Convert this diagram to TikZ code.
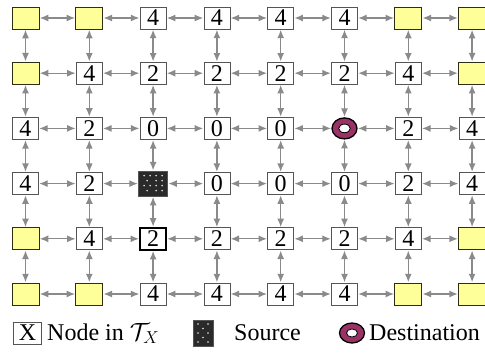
\documentclass[tikz,border=0pt]{standalone}
\usepackage{fontspec}
\setmainfont{Liberation Serif}
\usetikzlibrary{arrows.meta,calc,shapes.geometric}
\definecolor{edgegray}{HTML}{8A8A8A}
\definecolor{boxgray}{HTML}{555555}
\definecolor{ylw}{HTML}{FFFF99}
\definecolor{ylwborder}{HTML}{2E2E10}
\definecolor{maroon}{HTML}{993366}
\definecolor{srcfill}{HTML}{2A2A2A}
\tikzset{
  numbox/.style={draw=boxgray, line width=0.8pt, fill=white, minimum width=26pt, minimum height=22pt, inner sep=0pt, font=\fontsize{24}{24}\selectfont},
  thickbox/.style={numbox, draw=black, line width=1.6pt},
  ybox/.style={draw=ylwborder, line width=0.9pt, fill=ylw, minimum width=27pt, minimum height=22pt, inner sep=0pt},
  srcbox/.style={draw=boxgray, line width=0.9pt, fill=srcfill, minimum width=29pt, minimum height=25pt, inner sep=0pt},
  dest/.style={ellipse, draw=black, line width=1.3pt, fill=maroon, minimum width=25pt, minimum height=21pt, inner sep=0pt},
  arr/.style={edgegray, line width=1.3pt, {Latex[length=8.5pt,width=7pt]}-{Latex[length=8.5pt,width=7pt]}, shorten <=0.3pt, shorten >=0.3pt},
  legtext/.style={font=\fontsize{24}{24}\selectfont, inner sep=0pt, anchor=base west}
}
\def\yy{Y}
\begin{document}
\begin{tikzpicture}[x=1pt,y=-1pt]
\useasboundingbox (0,0) rectangle (485,359);
\def\cx#1{25.5+63.8*#1}
\def\ry#1{18+55.2*#1}
% row 0
\foreach \c/\t in {0/Y,1/Y,2/4,3/4,4/4,5/4,6/Y,7/Y}{
  \ifx\t\yy \node[ybox] (n-0-\c) at ({\cx{\c}},{\ry{0}}) {};
  \else \node[numbox] (n-0-\c) at ({\cx{\c}},{\ry{0}}) {\t}; \fi
}
% row 1
\foreach \c/\t in {0/Y,1/4,2/2,3/2,4/2,5/2,6/4,7/Y}{
  \ifx\t\yy \node[ybox] (n-1-\c) at ({\cx{\c}},{\ry{1}}) {};
  \else \node[numbox] (n-1-\c) at ({\cx{\c}},{\ry{1}}) {\t}; \fi
}
% row 2
\foreach \c/\t in {0/4,1/2,2/0,3/0,4/0,6/2,7/4}{
  \node[numbox] (n-2-\c) at ({\cx{\c}},{\ry{2}}) {\t};
}
\node[dest] (n-2-5) at ({\cx{5}},{\ry{2}}) {};
\fill[white, draw=black, line width=0.8pt] (n-2-5.center) ellipse (5.8pt and 4.3pt);
% row 3
\foreach \c/\t in {0/4,1/2,3/0,4/0,5/0,6/2,7/4}{
  \node[numbox] (n-3-\c) at ({\cx{\c}},{\ry{3}}) {\t};
}
\node[srcbox] (n-3-2) at ({\cx{2}},{\ry{3}}) {};
\foreach \dx/\dy in {-9/-8,-3/-8,3/-8,9/-8,-6/-3,3/-3,9/-3,-9/2,-3/2,3/2,9/2,-6/7,3/7,9/7}{
  \fill[white!80!gray] ($(n-3-2.center)+(\dx,\dy)$) circle (0.9pt);
}
% row 4
\foreach \c/\t in {0/Y,1/4,3/2,4/2,5/2,6/4,7/Y}{
  \ifx\t\yy \node[ybox] (n-4-\c) at ({\cx{\c}},{\ry{4}}) {};
  \else \node[numbox] (n-4-\c) at ({\cx{\c}},{\ry{4}}) {\t}; \fi
}
\node[thickbox] (n-4-2) at ({\cx{2}},{\ry{4}}) {2};
% row 5
\foreach \c/\t in {0/Y,1/Y,2/4,3/4,4/4,5/4,6/Y,7/Y}{
  \ifx\t\yy \node[ybox] (n-5-\c) at ({\cx{\c}},{\ry{5}}) {};
  \else \node[numbox] (n-5-\c) at ({\cx{\c}},{\ry{5}}) {\t}; \fi
}
% edges
\foreach \r in {0,...,5}{
  \foreach \c [evaluate=\c as \cn using int(\c+1)] in {0,...,6}{
    \draw[arr] (n-\r-\c) -- (n-\r-\cn);
  }
}
\foreach \c in {0,...,7}{
  \foreach \r [evaluate=\r as \rn using int(\r+1)] in {0,...,4}{
    \draw[arr] (n-\r-\c) -- (n-\rn-\c);
  }
}
% legend
\coordinate (lbase) at (0,340);
\node[numbox, minimum width=28pt] (lx) at (27.5,333) {X};
\node[legtext] (lxt) at (47,340) {Node in $\mathcal{T}_X$};
\node[srcbox, minimum width=20pt, minimum height=26pt] (ls) at (203,333) {};
\foreach \dx/\dy in {-5/-9,5/-9,0/-4.5,-5/0,5/0,0/4.5,-5/9,5/9}{
  \fill[white!80!gray] ($(ls.center)+(\dx,\dy)$) circle (0.8pt);
}
\node[legtext] (lst) at (234,340) {Source};
\node[dest, minimum width=25pt, minimum height=20pt] (ld) at (352,333) {};
\fill[white, draw=black, line width=0.8pt] (ld.center) ellipse (5.5pt and 4pt);
\node[legtext] (ldt) at (369,340) {Destination};
\end{tikzpicture}
\end{document}
